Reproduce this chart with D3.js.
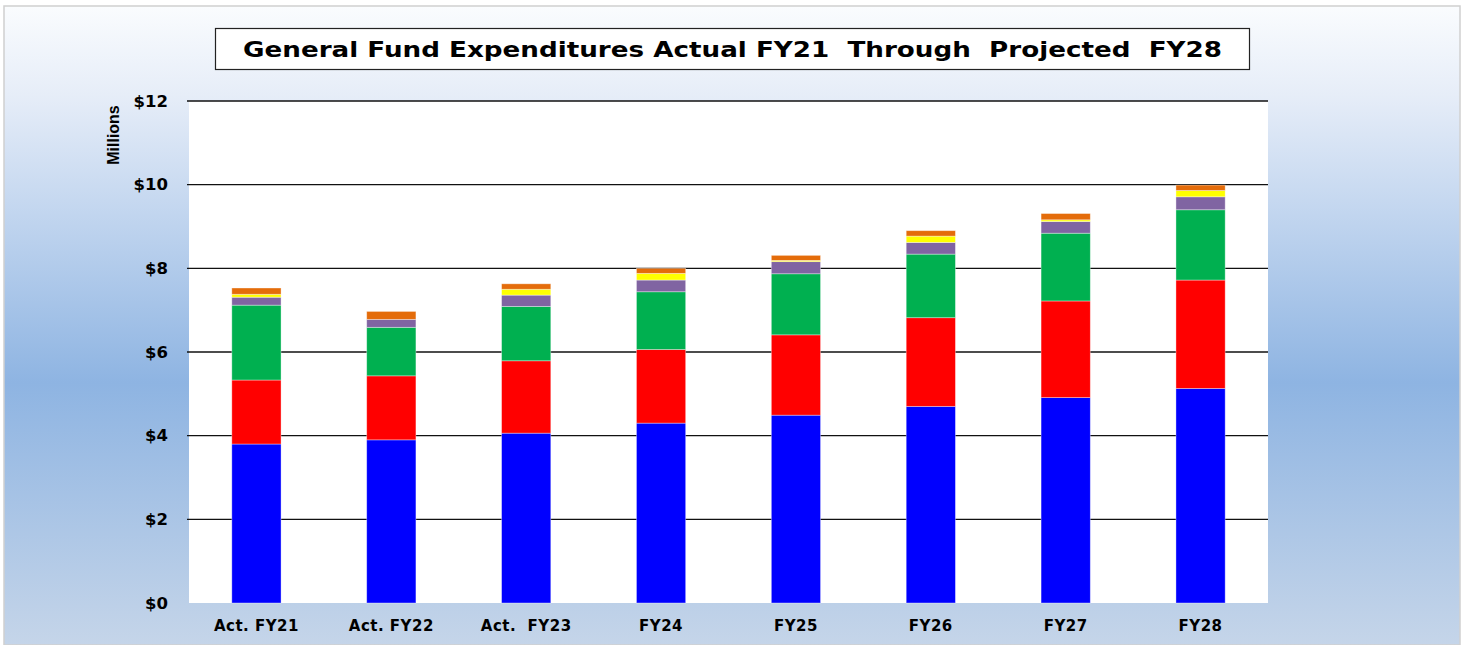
<!DOCTYPE html>
<html>
<head>
<meta charset="utf-8">
<script src="https://cdn.jsdelivr.net/npm/d3@7"></script>
<style>
html,body{margin:0;padding:0;background:#fff;}
svg{display:block;}
</style>
</head>
<body>
<svg id="chart" width="1468" height="645"></svg>
<script>
const categories = ["Act. FY21","Act. FY22","Act.  FY23","FY24","FY25","FY26","FY27","FY28"];
const seriesNames = ["S1","S2","S3","S4","S5","S6"];
const s1 = [3.80, 3.90, 4.06, 4.30, 4.49, 4.70, 4.91, 5.13];
const s2 = [1.53, 1.53, 1.73, 1.76, 1.92, 2.12, 2.31, 2.59];
const s3 = [1.79, 1.16, 1.30, 1.38, 1.46, 1.52, 1.62, 1.68];
const s4 = [0.19, 0.19, 0.27, 0.28, 0.29, 0.28, 0.28, 0.31];
const s5 = [0.07, 0.00, 0.14, 0.16, 0.03, 0.15, 0.04, 0.15];
const s6 = [0.15, 0.19, 0.13, 0.12, 0.12, 0.13, 0.15, 0.13];
const seriesColors = ["#0000ff","#ff0000","#00b050","#8064a2","#ffff00","#e46c0a"];
const yTicks = [0,2,4,6,8,10,12];
const titleText = "General Fund Expenditures Actual FY21  Through  Projected  FY28";

const svg = d3.select("#chart");
const defs = svg.append("defs");
const grad = defs.append("linearGradient").attr("id","bg").attr("x1",0).attr("y1",0).attr("x2",0).attr("y2",1);
[[0,"#fafcfe"],[0.14,"#e6edf8"],[0.59,"#8eb4e2"],[1,"#c5d5e9"]].forEach(s=>grad.append("stop").attr("offset",s[0]).attr("stop-color",s[1]));

svg.append("rect").attr("x",4).attr("y",6).attr("width",1456).attr("height",639)
  .attr("fill","url(#bg)").attr("stroke","#d0d0d0").attr("stroke-width",1.5);

const plot = {l:189, r:1268, t:101, b:603};
const x = d3.scaleBand().domain(categories).range([plot.l, plot.r]).paddingInner(0.635).paddingOuter(0.3175);
const y = d3.scaleLinear().domain([0,12]).range([plot.b, plot.t]);

svg.append("rect").attr("x",plot.l).attr("y",plot.t).attr("width",plot.r-plot.l).attr("height",plot.b-plot.t).attr("fill","#fff");

// grid
svg.append("g").selectAll("line").data(yTicks.filter(d=>d>0)).join("line")
  .attr("x1",plot.l-2).attr("x2",plot.r).attr("y1",d=>y(d)).attr("y2",d=>y(d))
  .attr("stroke","#111").attr("stroke-width",1.3);

// stacked data
const rows = categories.map((c,i)=>({cat:c, S1:s1[i], S2:s2[i], S3:s3[i], S4:s4[i], S5:s5[i], S6:s6[i]}));
const stack = d3.stack().keys(seriesNames)(rows);
svg.append("g").selectAll("g").data(stack).join("g")
  .attr("fill",(d,i)=>seriesColors[i])
  .selectAll("rect").data(d=>d).join("rect")
  .attr("x",d=>x(d.data.cat)).attr("width",x.bandwidth())
  .attr("y",d=>y(d[1])).attr("height",d=>Math.max(0,y(d[0])-y(d[1])))
  .attr("stroke",d=>(d[1]-d[0])>0?"rgba(255,255,255,0.45)":"none").attr("stroke-width",0.8);

// y axis
const yAxis = d3.axisLeft(y).tickValues(yTicks).tickSize(0).tickPadding(0).tickFormat(d=>"$"+d);
const ya = svg.append("g").attr("transform",`translate(${168},0)`).call(yAxis);
ya.select(".domain").remove();
ya.selectAll("text").attr("font-family","DejaVu Sans").attr("font-weight","bold").attr("font-size","16.5px").attr("fill","#000");

svg.append("text").attr("transform","translate(119,135) rotate(-90)").attr("text-anchor","middle")
  .attr("font-family","Liberation Sans Narrow, Liberation Sans").attr("font-weight","bold").attr("font-size","16px").text("Millions");

// x axis
const xAxis = d3.axisBottom(x).tickSize(0).tickPadding(0);
const xa = svg.append("g").attr("transform",`translate(0,${plot.b+17})`).call(xAxis);
xa.select(".domain").remove();
xa.selectAll("text").attr("font-family","DejaVu Sans").attr("font-weight","bold").attr("font-size","15px").attr("fill","#000")
  .attr("letter-spacing","0.5px").attr("dy","0.71em").style("white-space","pre");

// title
svg.append("rect").attr("x",215.5).attr("y",28.5).attr("width",1034).attr("height",41).attr("fill","#fff").attr("stroke","#222").attr("stroke-width",1.2);
svg.append("text").attr("x",243).attr("y",57).attr("text-anchor","start")
  .attr("font-family","DejaVu Sans").attr("font-weight","bold").attr("font-size","22px").style("white-space","pre")
  .attr("textLength",979).attr("lengthAdjust","spacingAndGlyphs").text(titleText);
</script>
</body>
</html>
